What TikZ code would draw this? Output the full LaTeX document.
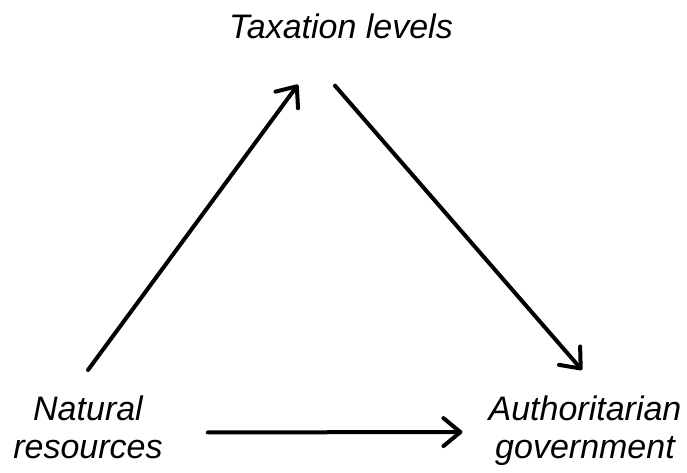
\documentclass[tikz,border=0pt]{standalone}
\usepackage{fontspec}
\setmainfont{Liberation Sans}
\usepackage{tikz}
\usetikzlibrary{arrows.meta,calc}

\begin{document}
\begin{tikzpicture}[x=1pt,y=-1pt,
    lbl/.style={inner sep=0pt,align=center,font=\fontsize{34}{38}\selectfont\itshape},
    arr/.style={line width=4pt,line cap=round,-{Straight Barb[length=17pt,width=28pt,round]}}]
                \useasboundingbox (0,0) rectangle (687,472);

                % Labels
                \node[lbl] (tax) at (341,26) {Taxation levels};
                \node[lbl,anchor=north] (nat) at (88,396) {Natural\\resources};
                \node[lbl,anchor=north] (auth) at (585,396) {Authoritarian\\government};

                % Arrows
                \draw[arr] ($(nat.north)+(0,-26)$) -- ($(tax.south)+(-43,46)$);
                \draw[arr] ($(tax.south)+(-6,47)$) -- ($(auth.north)+(-3,-26)$);
                \draw[arr] ($(nat.south east)+(45,-27)$) -- ($(auth.south west)+(-26,-34)$);
            \end{tikzpicture}
\end{document}
